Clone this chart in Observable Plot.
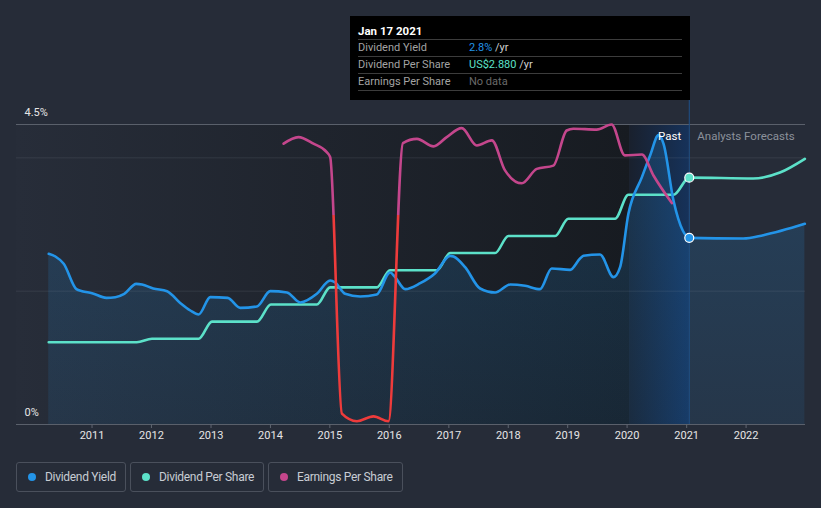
<!DOCTYPE html>
<html><head><meta charset="utf-8">
<script src="https://cdn.jsdelivr.net/npm/d3@7"></script>
<script src="https://cdn.jsdelivr.net/npm/@observablehq/plot@0.6"></script>
<style>
html,body{margin:0;padding:0;background:#262c38;}
body{width:821px;height:508px;position:relative;overflow:hidden;font-family:Roboto,"Noto Sans",sans-serif;}
#chart{position:absolute;left:0;top:0;}
#tip{position:absolute;left:350px;top:16px;width:340px;height:84px;background:#000;box-sizing:border-box;padding:0 8px;}
#tip .title{border-bottom:1px solid #3c3c3c;color:#fff;font-weight:bold;font-size:11.5px;line-height:14px;padding-top:8px;box-sizing:border-box;height:24px;}
#tip .row{height:17px;border-bottom:1px solid #3c3c3c;box-sizing:border-box;font-size:11px;line-height:16px;color:#a3a3a3;white-space:nowrap;}
#tip .lab{display:inline-block;width:111px;}
#tip .yr{color:#d0d0d0;}
#legend{position:absolute;left:16px;top:462px;display:flex;}
#legend .item{box-sizing:border-box;height:30px;border:1px solid #4a505c;border-radius:3px;margin-right:4px;display:flex;align-items:center;padding-left:11px;color:#c8cdd4;font-size:12px;letter-spacing:-0.3px;white-space:nowrap;}
#legend .dot{width:8px;height:8px;border-radius:50%;margin-right:9px;flex:none;}
</style></head>
<body>
<div id="chart"></div>
<div id="tip">
  <div class="title" id="tipTitle"></div>
  <div class="row"><span class="lab">Dividend Yield</span><span id="tipYield" style="color:#2394e8"></span><span class="yr"> /yr</span></div>
  <div class="row"><span class="lab">Dividend Per Share</span><span id="tipDps" style="color:#5ce1c9"></span><span class="yr"> /yr</span></div>
  <div class="row"><span class="lab">Earnings Per Share</span><span style="color:#6a6a6a">No data</span></div>
</div>
<div id="legend"></div>
<script>
// ---- data ----
const yieldDates = ["2010-04-10","2010-05-21","2010-07-11","2010-09-27","2010-11-01","2011-01-01","2011-03-30","2011-05-24","2011-07-18","2011-09-30","2011-11-04","2012-01-12","2012-04-06","2012-06-27","2012-08-27","2012-10-17","2012-12-28","2013-04-13","2013-06-30","2013-10-10","2013-12-31","2014-04-13","2014-07-03","2014-10-13","2015-01-03","2015-02-03","2015-04-05","2015-07-06","2015-10-16","2016-01-06","2016-02-06","2016-04-08","2016-07-09","2016-10-09","2017-01-09","2017-01-30","2017-04-11","2017-07-12","2017-10-12","2018-01-13","2018-04-15","2018-07-15","2018-09-25","2019-01-16","2019-03-18","2019-04-08","2019-07-19","2019-10-09","2019-11-19","2020-01-09","2020-04-01","2020-05-22","2020-07-12","2020-08-12","2020-10-12","2020-12-08","2021-01-17","2021-12-15","2022-04-17","2022-12-28"];
const yieldPct = [2.56,2.52,2.41,2.03,2.00,1.97,1.90,1.91,1.96,2.11,2.10,2.04,2.00,1.82,1.71,1.65,1.91,1.90,1.75,1.77,2.00,1.98,1.83,1.96,2.16,2.13,1.96,1.92,1.95,2.28,2.21,2.03,2.12,2.27,2.53,2.52,2.36,2.04,1.98,2.10,2.08,2.03,2.34,2.32,2.49,2.53,2.55,2.21,2.36,3.16,3.71,4.04,4.34,4.21,3.36,2.91,2.80,2.79,2.84,3.01];

const dpsDates = ["2010-04-10","2011-10-03","2012-01-04","2012-10-17","2013-01-07","2013-10-10","2014-01-04","2014-10-13","2015-01-03","2015-10-16","2016-01-06","2016-10-20","2017-01-09","2017-10-12","2018-01-02","2018-10-16","2019-01-05","2019-10-19","2020-01-09","2020-10-12","2021-01-17","2022-02-14","2022-07-28","2022-12-28"];
const dpsUsd = [0.96,0.96,1.00,1.00,1.20,1.20,1.40,1.40,1.60,1.60,1.80,1.80,2.00,2.00,2.20,2.20,2.40,2.40,2.68,2.68,2.88,2.87,2.94,3.10];

const epsDates = ["2014-03-23","2014-06-22","2014-09-22","2014-12-13","2015-01-03","2015-03-16","2015-06-16","2015-09-26","2015-12-27","2016-03-25","2016-06-19","2016-09-29","2016-12-19","2017-03-21","2017-06-22","2017-09-22","2017-12-12","2018-03-25","2018-06-25","2018-10-05","2018-12-26","2019-02-05","2019-06-28","2019-09-28","2019-12-18","2020-04-01","2020-06-11","2020-10-02"];
const epsUsd = [2.36,2.58,2.36,2.08,1.91,-6.64,-6.89,-6.73,-6.89,2.38,2.52,2.27,2.58,2.88,2.30,2.47,1.47,1.04,1.52,1.63,2.80,2.86,2.83,3.00,1.97,2.00,1.30,0.38];

const yearTicks = [2011,2012,2013,2014,2015,2016,2017,2018,2019,2020,2021,2022];
const gridPct = [2, 4];
const axisLabelPct = [4.5, 0];
const YIELD_MAX = 4.5, DPS_MAX = 3.5, EPS_MIN = -7, EPS_MAX = 3;
const domainStart = "2009-09-24", domainEnd = "2023-01-01";
const pastStart = "2020-01-17", tipDate = "2021-01-17";
const tipTitle = "Jan 17 2021", tipYield = "2.8%", tipDps = "US$2.880";
const seriesNames = ["Dividend Yield","Dividend Per Share","Earnings Per Share"];
const seriesColors = ["#2394e8","#5ce1c9","#c4468c"];
const epsNegColor = "#ee3b3b";

// ---- build tables ----
const parse = d3.utcParse("%Y-%m-%d");
const yieldData = yieldDates.map((d,i) => ({date: parse(d), v: yieldPct[i] / YIELD_MAX}));
const dpsData = dpsDates.map((d,i) => ({date: parse(d), v: dpsUsd[i] / DPS_MAX}));
const epsNorm = e => (e - EPS_MIN) / (EPS_MAX - EPS_MIN);
const epsData = epsDates.map((d,i) => ({date: parse(d), v: epsNorm(epsUsd[i])}));
const tipD = parse(tipDate);
const regions = [
  {x1: parse(domainStart), x2: parse(pastStart), fill: "url(#gDark)"},
  {x1: parse(pastStart), x2: tipD, fill: "url(#gPast)"}
];
const tipPoints = [
  {date: tipD, v: yieldPct[yieldDates.indexOf(tipDate)] / YIELD_MAX, c: seriesColors[0]},
  {date: tipD, v: dpsUsd[dpsDates.indexOf(tipDate)] / DPS_MAX, c: seriesColors[1]}
];
const tickDates = yearTicks.map(y => new Date(Date.UTC(y, 0, 1)));

const plot = Plot.plot({
  width: 821, height: 450,
  marginTop: 124, marginBottom: 26, marginLeft: 16, marginRight: 16,
  style: {background: "transparent", color: "#e6e6e6", fontFamily: "Roboto, sans-serif", fontSize: "11px", overflow: "visible"},
  x: {type: "utc", domain: [parse(domainStart), parse(domainEnd)], axis: null},
  y: {domain: [0, 1], axis: null},
  marks: [
    Plot.rect(regions, {x1: "x1", x2: "x2", y1: () => 0, y2: () => 1, fill: "fill"}),
    Plot.areaY(yieldData, {x: "date", y: "v", fill: "url(#gArea)", curve: "monotone-x"}),
    Plot.ruleY(gridPct, {y: d => d / YIELD_MAX, stroke: "#9aa3b3", strokeOpacity: 0.14}),
    Plot.ruleY([YIELD_MAX], {y: d => d / YIELD_MAX, stroke: "#5a606b"}),
    Plot.ruleY([0], {y: d => d, stroke: "#5a606b"}),
    Plot.ruleX([tipD], {x: d => d, stroke: "#1f5189", strokeWidth: 1, insetTop: -24}),
    Plot.line(dpsData, {x: "date", y: "v", stroke: seriesColors[1], strokeWidth: 2.6, curve: "monotone-x"}),
    Plot.line(yieldData, {x: "date", y: "v", stroke: seriesColors[0], strokeWidth: 2.6, curve: "monotone-x"}),
    Plot.line(epsData, {x: "date", y: "v", stroke: "url(#gEps)", strokeWidth: 2.6, curve: "monotone-x"}),
    Plot.dot(tipPoints, {x: "date", y: "v", r: 4.5, fill: "c", stroke: "#ffffff", strokeWidth: 1.2}),
    Plot.text(["Past"], {x: () => tipD, y: () => 1, dy: 12, dx: -8, text: d => d, fill: "#ffffff", fontSize: 11.5, textAnchor: "end"}),
    Plot.text(["Analysts Forecasts"], {x: () => tipD, y: () => 1, dy: 12, dx: 8, text: d => d, fill: "#8b919b", fontSize: 11.5, textAnchor: "start"}),
    Plot.text(axisLabelPct, {y: d => d / YIELD_MAX, frameAnchor: "left", dx: 8, dy: -12, text: d => d + "%", fill: "#e6e6e6", textAnchor: "start", fontSize: 11}),
    Plot.axisX(tickDates, {tickSize: 4, tickPadding: 3, tickFormat: d3.utcFormat("%Y"), stroke: "#5f6570", fill: "#e6e6e6", fontSize: 11})
  ]
});
document.getElementById("chart").appendChild(plot);

// gradients
const svg = d3.select(plot);
const ys = plot.scale("y");
const yTop = ys.apply(1), yBot = ys.apply(0), yZero = ys.apply(epsNorm(0));
const f = (yZero - yTop) / (yBot - yTop);
const defs = svg.insert("defs", ":first-child");
const gD = defs.append("linearGradient").attr("id", "gDark").attr("x1", 0).attr("x2", 1).attr("y1", 0).attr("y2", 0);
gD.append("stop").attr("offset", 0).attr("stop-color", "#272d39");
gD.append("stop").attr("offset", 1).attr("stop-color", "#171b21");
const gP = defs.append("linearGradient").attr("id", "gPast").attr("x1", 0).attr("x2", 1).attr("y1", 0).attr("y2", 0);
gP.append("stop").attr("offset", 0).attr("stop-color", "#19202d");
gP.append("stop").attr("offset", 1).attr("stop-color", "#16325a");
const gA = defs.append("linearGradient").attr("id", "gArea").attr("x1", 0).attr("x2", 0).attr("y1", 0).attr("y2", 1);
gA.append("stop").attr("offset", 0).attr("stop-color", seriesColors[0]).attr("stop-opacity", 0.2);
gA.append("stop").attr("offset", 1).attr("stop-color", seriesColors[0]).attr("stop-opacity", 0.1);
const gE = defs.append("linearGradient").attr("id", "gEps").attr("gradientUnits", "userSpaceOnUse")
  .attr("x1", 0).attr("x2", 0).attr("y1", yTop).attr("y2", yBot);
gE.append("stop").attr("offset", f).attr("stop-color", seriesColors[2]);
gE.append("stop").attr("offset", f).attr("stop-color", epsNegColor);

// tooltip + legend text
document.getElementById("tipTitle").textContent = tipTitle;
document.getElementById("tipYield").textContent = tipYield;
document.getElementById("tipDps").textContent = tipDps;
const widths = [110, 134, 135];
const leg = d3.select("#legend");
seriesNames.forEach((n, i) => {
  const it = leg.append("div").attr("class", "item").style("width", widths[i] + "px");
  it.append("div").attr("class", "dot").style("background", seriesColors[i]);
  it.append("span").text(n);
});
</script>
</body></html>
